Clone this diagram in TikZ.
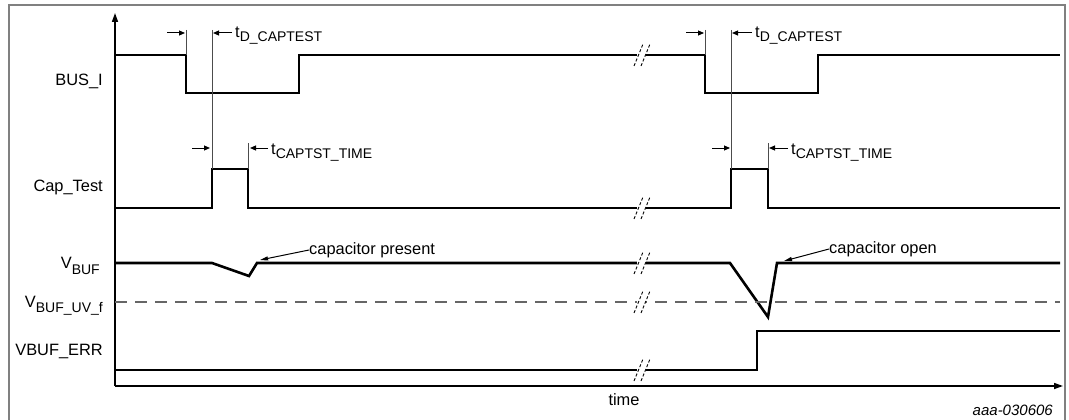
\documentclass[tikz,border=0pt]{standalone}
\usepackage{fontspec}
\setmainfont{Liberation Sans}
\usetikzlibrary{arrows.meta}
\newcommand\sbs[2][4pt]{\raisebox{-#1}{\fontsize{14}{14}\selectfont #2}}
\begin{document}
\begin{tikzpicture}[x=1pt,y=-1pt,
  sig/.style={line width=2.6pt, line join=miter},
  guide/.style={gray!60!black, line width=1pt},
  dim/.style={line width=1pt, -{Triangle[length=6pt,width=5pt]}},
  callout/.style={line width=1pt, -{Triangle[length=8pt,width=4pt]}},
  axis/.style={line width=1.6pt, -{Triangle[length=9pt,width=6pt]}},
  brkline/.style={line width=0.9pt, dash pattern=on 3pt off 2pt},
  lbl/.style={font=\fontsize{16.4}{19}\selectfont, inner sep=0pt},
  frame/.style={gray, line width=1.5pt}]
\useasboundingbox (0,0) rectangle (1069,420);
% frame
\draw[frame] (9,425) -- (9,5) -- (1065,5) -- (1065,425);
% axes
\draw[axis] (115,386) -- (115,13);
\draw[axis] (115,386) -- (1063,386);
% signals
\draw[sig] (115,55) -- (186,55) -- (186,93) -- (299,93) -- (299,55) -- (705,55) -- (705,93) -- (818,93) -- (818,55) -- (1060,55);
\draw[sig] (115,208) -- (212,208) -- (212,169) -- (248,169) -- (248,208) -- (731,208) -- (731,169) -- (768,169) -- (768,208) -- (1060,208);
\draw[sig] (115,263) -- (212,263) -- (249,276) -- (257,263) -- (730,263) -- (768,317) -- (777,263) -- (1060,263);
\draw[gray!80!black, line width=1.5pt, dash pattern=on 12pt off 8pt] (115,302) -- (1060,302);
\draw[sig] (115,370) -- (757,370) -- (757,331) -- (1060,331);
% break marks
\foreach \yy in {55,208,263,302,370}{
  \fill[white] (637,\yy-3) rectangle (646,\yy+3);
  \draw[brkline] (634,\yy+11) -- (643,\yy-11);
  \draw[brkline] (641,\yy+11) -- (650,\yy-11);
}
% guide lines
\draw[guide] (186,30) -- (186,55);
\draw[guide] (212,30) -- (212,169);
\draw[guide] (248,143) -- (248,169);
\draw[guide] (705,30) -- (705,55);
\draw[guide] (731,30) -- (731,169);
\draw[guide] (768,143) -- (768,169);
% dimension arrows
\draw[dim] (167,33) -- (185,33);
\draw[dim] (232,33) -- (213,33);
\draw[dim] (192,148) -- (210,148);
\draw[dim] (268,148) -- (250,148);
\draw[dim] (686,33) -- (704,33);
\draw[dim] (752,33) -- (732,33);
\draw[dim] (712,148) -- (730,148);
\draw[dim] (788,148) -- (769,148);
% timing labels
\node[lbl, anchor=base west] (td1) at (235,38) {t\sbs{D\_CAPTEST}};
\node[lbl, anchor=base west] (td2) at (755,38) {t\sbs{D\_CAPTEST}};
\node[lbl, anchor=base west] (tc1) at (271,154) {t\sbs{CAPTST\_TIME}};
\node[lbl, anchor=base west] (tc2) at (791,154) {t\sbs{CAPTST\_TIME}};
% signal names
\node[lbl, anchor=base east] (n1) at (103,85) {BUS\_I};
\node[lbl, anchor=base east] (n2) at (103,191) {Cap\_Test};
\node[lbl, anchor=base east] (n3) at (100,268) {V\sbs[6pt]{BUF}};
\node[lbl, anchor=base east] (n4) at (103,307) {V\sbs[5pt]{BUF\_UV\_f}};
\node[lbl, anchor=base east] (n5) at (103,355) {VBUF\_ERR};
% callouts
\node[lbl, anchor=west] (cp) at (309,250) {capacitor present};
\node[lbl, anchor=west] (co) at (829,249) {capacitor open};
\coordinate (cpt) at (260,260);
\coordinate (cot) at (784,261);
\draw[callout] (cp.west) -- (cpt);
\draw[callout] (co.west) -- (cot);
% axis label and id
\node[lbl] (time) at (624,400) {time};
\node[lbl, anchor=east, font=\fontsize{15}{18}\selectfont\itshape] (id) at (1053,410) {aaa-030606};
\end{tikzpicture}
\end{document}
